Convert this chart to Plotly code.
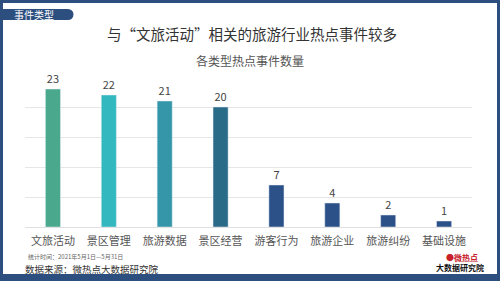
import plotly.graph_objects as go

categories = ["文旅活动", "景区管理", "旅游数据", "景区经营", "游客行为", "旅游企业", "旅游纠纷", "基础设施"]
values = [23, 22, 21, 20, 7, 4, 2, 1]
bar_colors = ["#4aa88c", "#33b8c0", "#3496a8", "#2a6b88", "#2b5188", "#2b5188", "#2b5188", "#2b5188"]

W, H = 500, 281
L, R, T, B = 25, 28, 77, 54
pw, ph = W - L - R, H - T - B

def px(x):
    return (x - L) / pw

def py(y):
    return (H - B - y) / ph

FONT = "Noto Sans CJK SC, Noto Sans, sans-serif"
FRAME = "#2c4f80"

fig = go.Figure(go.Bar(
    x=categories, y=values, marker_color=bar_colors, width=0.27,
    text=[str(v) for v in values], textposition="outside",
    textfont=dict(size=11, color="#444", family=FONT), cliponaxis=False,
))

shapes = [
    dict(type="rect", xref="paper", yref="paper", x0=px(0), x1=px(3), y0=py(281), y1=py(0), fillcolor=FRAME, line_width=0, layer="above"),
    dict(type="rect", xref="paper", yref="paper", x0=px(497), x1=px(500), y0=py(281), y1=py(0), fillcolor=FRAME, line_width=0, layer="above"),
    dict(type="rect", xref="paper", yref="paper", x0=px(0), x1=px(500), y0=py(3), y1=py(0), fillcolor=FRAME, line_width=0, layer="above"),
    dict(type="rect", xref="paper", yref="paper", x0=px(0), x1=px(500), y0=py(281), y1=py(274), fillcolor=FRAME, line_width=0, layer="above"),
    dict(type="rect", xref="paper", yref="paper", x0=px(0), x1=px(68), y0=py(20), y1=py(9), fillcolor=FRAME, line_width=0, layer="above"),
    dict(type="circle", xref="paper", yref="paper", x0=px(62.5), x1=px(73.5), y0=py(20), y1=py(9), fillcolor=FRAME, line_width=0, layer="above"),
]

annotations = [
    dict(text="事件类型", x=px(34), y=py(14.5), xref="paper", yref="paper", showarrow=False,
         font=dict(size=10, color="white", family=FONT), xanchor="center", yanchor="middle"),
    dict(text="与“文旅活动”相关的旅游行业热点事件较多", x=px(252), y=py(33), xref="paper", yref="paper", showarrow=False,
         font=dict(size=14.5, color="#333", family=FONT), xanchor="center", yanchor="middle"),
    dict(text="各类型热点事件数量", x=px(250), y=py(60), xref="paper", yref="paper", showarrow=False,
         font=dict(size=12, color="#555", family=FONT), xanchor="center", yanchor="middle"),
    dict(text="统计时间：2021年5月1日—5月31日", x=px(26), y=py(256.5), xref="paper", yref="paper", showarrow=False,
         font=dict(size=6, color="#666", family=FONT), xanchor="left", yanchor="middle"),
    dict(text="数据来源：微热点大数据研究院", x=px(23), y=py(268.5), xref="paper", yref="paper", showarrow=False,
         font=dict(size=9.5, color="#333", family=FONT), xanchor="left", yanchor="middle"),
    dict(text="<b>●</b><b>微热点</b>", x=px(462), y=py(257), xref="paper", yref="paper", showarrow=False,
         font=dict(size=8, color="#c8202a", family=FONT), xanchor="center", yanchor="middle"),
    dict(text="<b>大数据研究院</b>", x=px(460), y=py(267), xref="paper", yref="paper", showarrow=False,
         font=dict(size=8, color="#111", family=FONT), xanchor="center", yanchor="middle"),
]

fig.update_layout(
    width=W, height=H, margin=dict(l=L, r=R, t=T, b=B),
    paper_bgcolor="white", plot_bgcolor="white",
    showlegend=False, shapes=shapes, annotations=annotations,
    font=dict(family=FONT),
    xaxis=dict(showgrid=False, showline=False, ticks="", ticklabelstandoff=6,
               tickfont=dict(size=11, color="#555", family=FONT)),
    yaxis=dict(range=[0, 25], dtick=5, showgrid=True, gridcolor="#e6e6e6", gridwidth=1,
               showticklabels=False, zeroline=True, zerolinecolor="#e0e0e0", zerolinewidth=1, fixedrange=True),
)

fig.write_html("out.html")
